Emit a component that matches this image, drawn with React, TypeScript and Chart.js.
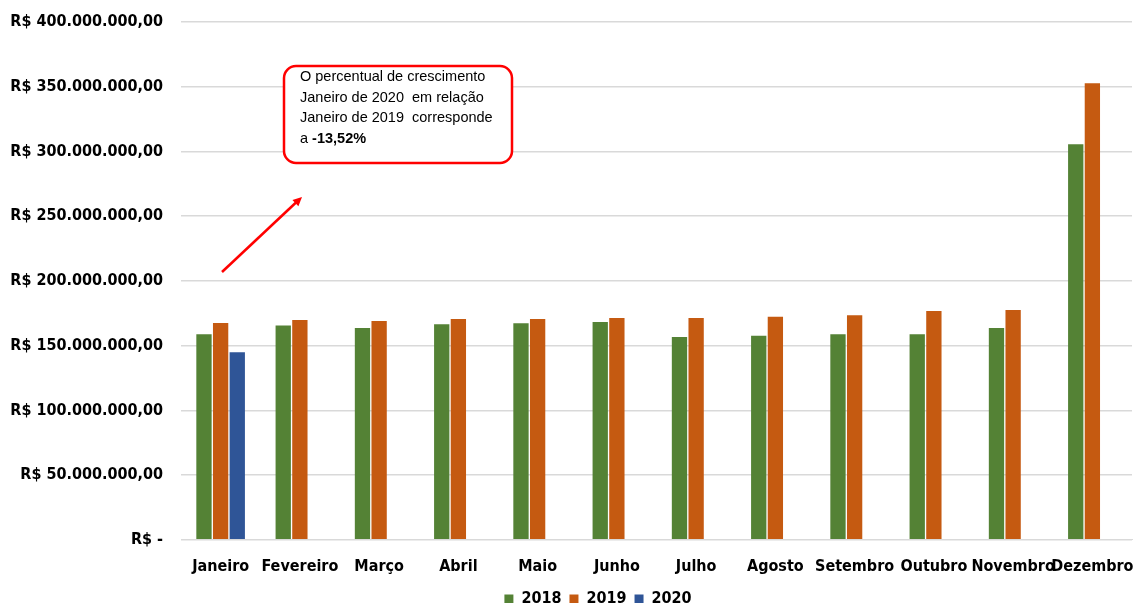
import React, { useEffect, useRef } from "react";
import { Chart, registerables } from "chart.js";

Chart.register(...registerables);

const months = ["Janeiro", "Fevereiro", "Março", "Abril", "Maio", "Junho", "Julho", "Agosto", "Setembro", "Outubro", "Novembro", "Dezembro"];
const values2018 = [158.7, 165.6, 163.6, 166.5, 167.2, 168.2, 156.6, 157.6, 158.7, 158.7, 163.6, 305.6].map((v) => v * 1e6);
const values2019 = [167.5, 169.8, 169.0, 170.6, 170.6, 171.3, 171.3, 172.3, 173.4, 176.7, 177.6, 352.6].map((v) => v * 1e6);
const values2020 = [144.85, null, null, null, null, null, null, null, null, null, null, null].map((v) => (v == null ? null : v * 1e6));
const noteLines = ["O percentual de crescimento", "Janeiro de 2020  em relação", "Janeiro de 2019  corresponde"];
const noteLast = ["a ", "-13,52%"];

const fmt = (v: number) => {
  if (v === 0) return "R$ -";
  const s = Math.round(v).toString().replace(/\B(?=(\d{3})+(?!\d))/g, ".");
  return "R$ " + s + ",00";
};

const notePlugin = {
  id: "note",
  afterLayout(chart: any) {
    if (chart.legend) chart.legend.left += 64;
  },
  afterDraw(chart: any) {
    const ctx = chart.ctx;
    const { left, top } = chart.chartArea;
    ctx.save();
    // arrow
    const x1 = left + 41, y1 = top + 250, x2 = left + 121, y2 = top + 175;
    ctx.strokeStyle = "#FF0000";
    ctx.fillStyle = "#FF0000";
    ctx.lineWidth = 2.5;
    ctx.beginPath();
    ctx.moveTo(x1, y1);
    ctx.lineTo(x2 - 6, y2 + 5.5);
    ctx.stroke();
    const ang = Math.atan2(y2 - y1, x2 - x1);
    ctx.beginPath();
    ctx.moveTo(x2, y2);
    ctx.lineTo(x2 - 10 * Math.cos(ang - 0.45), y2 - 10 * Math.sin(ang - 0.45));
    ctx.lineTo(x2 - 10 * Math.cos(ang + 0.45), y2 - 10 * Math.sin(ang + 0.45));
    ctx.closePath();
    ctx.fill();
    // box
    const bx = left + 103, by = top + 44, bw = 228, bh = 97, r = 12;
    ctx.lineWidth = 2.5;
    ctx.fillStyle = "#FFFFFF";
    ctx.beginPath();
    ctx.roundRect(bx, by, bw, bh, r);
    ctx.fill();
    ctx.stroke();
    ctx.fillStyle = "#000000";
    ctx.textBaseline = "middle";
    ctx.textAlign = "left";
    ctx.font = "14.5px 'Liberation Sans', sans-serif";
    noteLines.forEach((l, i) => ctx.fillText(l, bx + 16, by + 11 + i * 20.5));
    ctx.fillText(noteLast[0], bx + 16, by + 11 + 3 * 20.5);
    const w = ctx.measureText(noteLast[0]).width;
    ctx.font = "bold 14.5px 'Liberation Sans', sans-serif";
    ctx.fillText(noteLast[1], bx + 16 + w, by + 11 + 3 * 20.5);
    ctx.restore();
  },
};

export default function App() {
  const ref = useRef<HTMLCanvasElement>(null);
  useEffect(() => {
    document.body.style.margin = "0";
    const font = { family: "'DejaVu Sans Condensed', 'DejaVu Sans', sans-serif", size: 16, weight: "bold" as const };
    const chart = new Chart(ref.current!, {
      type: "bar",
      data: {
        labels: months,
        datasets: [
          { label: "2018", data: values2018, backgroundColor: "#548235" },
          { label: "2019", data: values2019, backgroundColor: "#C55A11" },
          { label: "2020", data: values2020 as any, backgroundColor: "#2F5597" },
        ],
      },
      options: {
        animation: false,
        responsive: false,
        maintainAspectRatio: false,
        layout: { padding: { top: 22, right: 2, left: 0, bottom: -14 } },
        datasets: { bar: { categoryPercentage: 0.63, barPercentage: 0.92 } } as any,
        scales: {
          x: {
            grid: { display: false, drawTicks: false },
            border: { display: true, color: "#D9D9D9" },
            ticks: { color: "#000", font, padding: 17, autoSkip: false, maxRotation: 0 },
            afterFit: (s: any) => {
              s.paddingLeft = 0;
              s.paddingRight = 0;
              s.height -= 10;
            },
          },
          y: {
            min: 0,
            max: 400e6,
            grid: { color: "#D9D9D9", lineWidth: 1.5, drawTicks: false },
            border: { display: false },
            ticks: { stepSize: 50e6, color: "#000", font, padding: 18, callback: (v: any) => fmt(Number(v)) },
            afterFit: (s: any) => {
              s.width = 181;
              s.paddingTop = 0;
            },
          },
        },
        plugins: {
          legend: {
            position: "bottom",
            labels: { color: "#000", font, boxWidth: 9, boxHeight: 9, padding: 8 },
          },
          tooltip: { enabled: false },
        },
      },
      plugins: [notePlugin],
    });
    return () => chart.destroy();
  }, []);
  return (
    <div style={{ width: 1134, height: 603, position: "relative" }}>
      <canvas ref={ref} width={1134} height={603} style={{ display: "block" }} />
    </div>
  );
}
